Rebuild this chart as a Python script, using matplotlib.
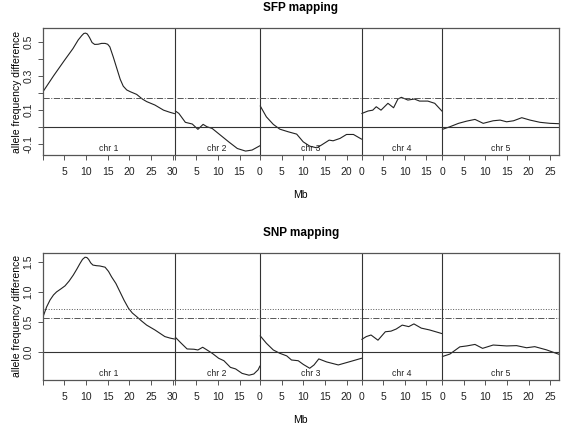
import matplotlib.pyplot as plt
import numpy as np
from matplotlib.transforms import blended_transform_factory

# chromosome lengths (Mb)
CHR_LEN = [30.43, 19.70, 23.46, 18.59, 26.98]
CHR_NAMES = ["chr 1", "chr 2", "chr 3", "chr 4", "chr 5"]

# SFP mapping: positions (Mb within chromosome) and allele frequency difference
sfp_x = [
    [0, 2.5, 5, 7, 8.2, 9, 9.5, 9.9, 10.3, 10.8, 11.4, 12.0, 12.8, 13.6, 14.4, 15.0, 15.5, 16.3, 17.1, 17.9, 18.6, 19.4, 20.2, 21.7, 23, 24, 25.9, 27.9, 29.3, 30.4],
    [0.2, 1.0, 2.5, 4.1, 5.4, 6.6, 7.5, 8.7, 10.6, 12.5, 14.5, 16.4, 17.9, 19.7],
    [0.1, 1.5, 3.1, 4.6, 6.5, 8.5, 10.0, 11.5, 13.1, 14.2, 16.0, 16.9, 18.5, 20.0, 21.6, 23.45],
    [0.1, 1.5, 2.6, 3.4, 4.5, 6.1, 7.4, 8.4, 9.2, 10.7, 12.2, 13.4, 15.3, 16.9, 18.55],
    [0.1, 1.8, 3.8, 5.7, 7.6, 9.5, 11.8, 13.4, 14.9, 16.5, 18.4, 20.3, 22.6, 24.9, 26.95],
]
sfp_y = [
    [0.205, 0.30, 0.39, 0.46, 0.51, 0.535, 0.548, 0.55, 0.545, 0.525, 0.495, 0.484, 0.485, 0.49, 0.49, 0.485, 0.47, 0.41, 0.345, 0.28, 0.24, 0.218, 0.208, 0.192, 0.165, 0.15, 0.13, 0.10, 0.088, 0.08],
    [0.095, 0.081, 0.029, 0.019, -0.012, 0.017, 0.003, -0.007, -0.046, -0.085, -0.124, -0.139, -0.133, -0.108],
    [0.124, 0.061, 0.017, -0.011, -0.026, -0.04, -0.085, -0.110, -0.12, -0.104, -0.075, -0.079, -0.065, -0.042, -0.042, -0.069],
    [0.081, 0.095, 0.10, 0.12, 0.10, 0.14, 0.114, 0.165, 0.175, 0.159, 0.165, 0.153, 0.153, 0.14, 0.095],
    [-0.012, 0.003, 0.023, 0.036, 0.046, 0.023, 0.038, 0.042, 0.032, 0.038, 0.056, 0.042, 0.029, 0.023, 0.021],
]

# SNP mapping
snp_x = [
    [0.1, 0.9, 1.7, 2.5, 3.2, 4.2, 5.15, 6.1, 7.07, 7.9, 8.6, 9.2, 9.77, 10.2, 10.6, 11.1, 11.6, 12.4, 13.2, 14.4, 15.2, 15.9, 16.9, 17.85, 18.8, 19.8, 20.7, 21.7, 22.8, 24.0, 25.9, 28.2, 29.4, 30.4],
    [0.2, 1.4, 2.9, 4.5, 5.4, 6.5, 7.5, 8.7, 10.2, 11.4, 12.9, 14.1, 15.6, 17.2, 18.3, 19.3, 19.7],
    [0.1, 1.5, 3.1, 4.6, 6.2, 7.3, 8.85, 10.0, 11.5, 12.5, 13.6, 15.4, 18.1, 20.8, 23.45],
    [0.1, 1.1, 2.2, 3.8, 5.5, 6.8, 8.0, 9.4, 10.9, 12.1, 13.8, 15.7, 18.55],
    [0.1, 1.8, 4.1, 5.7, 7.6, 9.35, 11.8, 14.9, 17.2, 19.5, 21.4, 24.1, 26.95],
]
snp_y = [
    [0.59, 0.75, 0.866, 0.95, 1.00, 1.05, 1.10, 1.18, 1.28, 1.38, 1.47, 1.54, 1.575, 1.57, 1.54, 1.48, 1.445, 1.435, 1.43, 1.41, 1.34, 1.25, 1.14, 1.00, 0.86, 0.73, 0.65, 0.59, 0.52, 0.45, 0.37, 0.26, 0.235, 0.22],
    [0.248, 0.16, 0.055, 0.05, 0.038, 0.083, 0.038, -0.017, -0.10, -0.14, -0.25, -0.276, -0.35, -0.38, -0.36, -0.29, -0.23],
    [0.27, 0.15, 0.038, -0.017, -0.06, -0.128, -0.14, -0.20, -0.265, -0.21, -0.11, -0.16, -0.21, -0.155, -0.10],
    [0.215, 0.26, 0.286, 0.20, 0.34, 0.35, 0.385, 0.45, 0.425, 0.47, 0.40, 0.37, 0.31],
    [-0.07, -0.03, 0.09, 0.105, 0.13, 0.065, 0.12, 0.105, 0.11, 0.075, 0.093, 0.04, -0.033],
]

# thresholds
sfp_dashdot = 0.17
snp_dotted = 0.71
snp_dashdot = 0.565

plt.rcParams["font.family"] = "Liberation Sans"
plt.rcParams["font.size"] = 7.5
BOX = "#555555"

fig = plt.figure(figsize=(5.63, 4.24), dpi=100)
ax_top = fig.add_axes([0.0758, 0.634, 0.917, 0.300])
ax_bot = fig.add_axes([0.0758, 0.104, 0.917, 0.300])

offsets = np.concatenate([[0], np.cumsum(CHR_LEN)])
total = offsets[-1]


def draw_panel(ax, xs, ys, title, ylim, yticks, ylabels, hlines):
    for i in range(5):
        ax.plot(np.array(xs[i]) + offsets[i], ys[i], color="#222222", lw=0.8)
    for b in offsets[1:-1]:
        ax.axvline(b, color="#333333", lw=0.8)
    ax.axhline(0, color="#333333", lw=0.8)
    for val, ls in hlines:
        ax.axhline(val, color="#555555", lw=0.7, ls=ls)

    # chromosome-wise ticks
    ticks, labels = [], []
    for i in range(5):
        for t in np.arange(0, CHR_LEN[i], 5):
            ticks.append(offsets[i] + t)
            if t == 0 and i < 2:
                labels.append("")
            else:
                labels.append(f"{int(t)}")
    ax.set_xticks(ticks)
    ax.set_xticklabels(labels)
    ax.set_xlim(0, total)
    ax.set_ylim(*ylim)
    ax.set_yticks(yticks)
    ax.set_yticklabels(ylabels, rotation=90, va="center")
    ax.tick_params(length=3.8, width=0.7, colors=BOX, labelcolor="#222222")
    ax.tick_params(axis="x", pad=5)
    ax.tick_params(axis="y", pad=3)
    for s in ax.spines.values():
        s.set_color(BOX)
        s.set_linewidth(0.9)

    trans = blended_transform_factory(ax.transData, ax.transAxes)
    for i in range(5):
        ax.text(offsets[i] + CHR_LEN[i] / 2, 0.015, CHR_NAMES[i], transform=trans,
                ha="center", va="bottom", fontsize=6.2, color="#222222")

    ax.set_title(title, fontsize=8.5, fontweight="bold", pad=12)
    ax.set_xlabel("Mb", fontsize=7.5, labelpad=9)
    ax.set_ylabel("allele frequency difference", fontsize=7.5, labelpad=1)


top_ticks = [-0.1, 0.0, 0.1, 0.2, 0.3, 0.4, 0.5]
top_labels = ["-0.1", "", "0.1", "", "0.3", "", "0.5"]
draw_panel(ax_top, sfp_x, sfp_y, "SFP mapping", (-0.163, 0.58), top_ticks, top_labels,
           [(sfp_dashdot, "-.")])

bot_ticks = [0.0, 0.5, 1.0, 1.5]
bot_labels = ["0.0", "0.5", "1.0", "1.5"]
draw_panel(ax_bot, snp_x, snp_y, "SNP mapping", (-0.458, 1.65), bot_ticks, bot_labels,
           [(snp_dotted, ":"), (snp_dashdot, "-.")])

fig.savefig("out.png", dpi=100)
